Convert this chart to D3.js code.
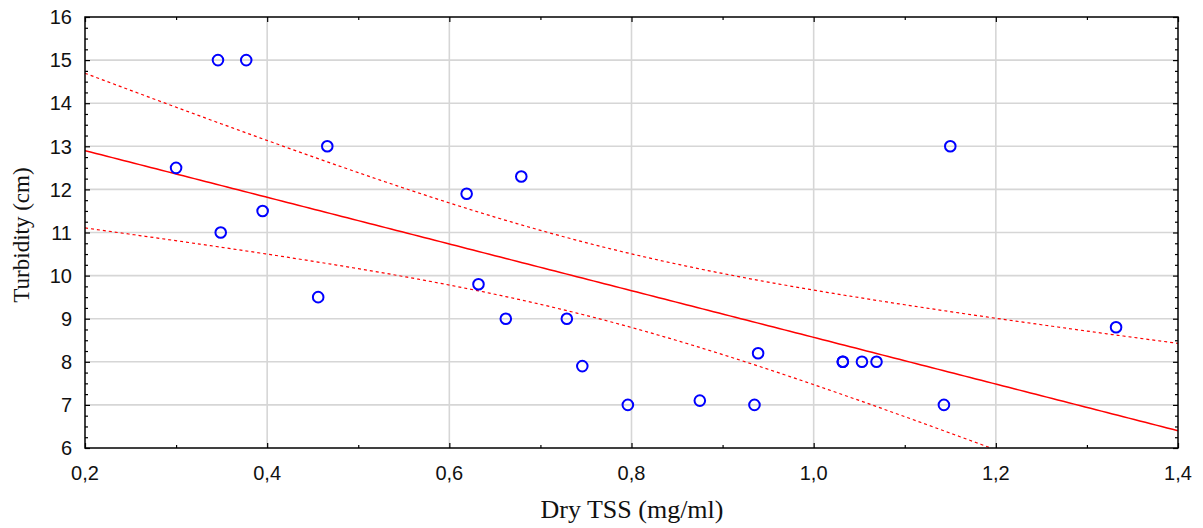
<!DOCTYPE html>
<html>
<head>
<meta charset="utf-8">
<script src="https://cdn.jsdelivr.net/npm/d3@7"></script>
<style>
  body { margin: 0; background: #fff; }
  svg { display: block; }
</style>
</head>
<body>
<div id="chart"></div>
<script>

var dryTss = [0.300, 0.346, 0.377, 0.349, 0.395, 0.466, 0.456, 0.619, 0.679, 0.632,
              0.662, 0.729, 0.746, 0.796, 0.875, 0.935, 0.939, 1.032, 1.032, 1.053,
              1.069, 1.143, 1.150, 1.332];
var turbidity = [12.5, 15.0, 15.0, 11.0, 11.5, 13.0, 9.5, 11.9, 12.3, 9.8,
                 9.0, 9.0, 7.9, 7.0, 7.1, 7.0, 8.2, 8.0, 8.0, 8.0,
                 8.0, 7.0, 13.0, 8.8];

var xTicks = [0.2, 0.4, 0.6, 0.8, 1.0, 1.2, 1.4];
var yTicks = [6, 7, 8, 9, 10, 11, 12, 13, 14, 15, 16];
var xDomain = [0.2, 1.4];
var yDomain = [6, 16];

var T_CRIT = 2.074; // t(0.975, n-2) for the 95% band

var W = 1203, H = 528;
var margin = { top: 17, right: 25, bottom: 80, left: 85 };
var iw = W - margin.left - margin.right;
var ih = H - margin.top - margin.bottom;

var fmt = function(v) { return d3.format(".1f")(v).replace(".", ","); };

var svg = d3.select("#chart").append("svg")
    .attr("width", W)
    .attr("height", H);

var g = svg.append("g")
    .attr("transform", "translate(" + margin.left + "," + margin.top + ")");

var x = d3.scaleLinear().domain(xDomain).range([0, iw]);
var y = d3.scaleLinear().domain(yDomain).range([ih, 0]);

// grid
g.append("g").selectAll("line").data(xTicks.slice(1, -1)).enter().append("line")
    .attr("x1", function(d) { return x(d); })
    .attr("x2", function(d) { return x(d); })
    .attr("y1", 0).attr("y2", ih)
    .attr("stroke", "#d6d6d6").attr("stroke-width", 1.6);
g.append("g").selectAll("line").data(yTicks.slice(1, -1)).enter().append("line")
    .attr("y1", function(d) { return y(d); })
    .attr("y2", function(d) { return y(d); })
    .attr("x1", 0).attr("x2", iw)
    .attr("stroke", "#d6d6d6").attr("stroke-width", 1.6);

// regression + 95% confidence band, computed from the points
var n = dryTss.length;
var mx = d3.mean(dryTss), my = d3.mean(turbidity);
var sxx = 0, sxy = 0;
for (var i = 0; i < n; i++) {
    sxx += (dryTss[i] - mx) * (dryTss[i] - mx);
    sxy += (dryTss[i] - mx) * (turbidity[i] - my);
}
var slope = sxy / sxx;
var icpt = my - slope * mx;
var sse = 0;
for (var i = 0; i < n; i++) {
    var r = turbidity[i] - (icpt + slope * dryTss[i]);
    sse += r * r;
}
var se = Math.sqrt(sse / (n - 2));

var xs = d3.range(0, 201).map(function(k) { return xDomain[0] + (xDomain[1] - xDomain[0]) * k / 200; });
function band(sign) {
    return xs.map(function(v) {
        var half = T_CRIT * se * Math.sqrt(1 / n + (v - mx) * (v - mx) / sxx);
        return [v, icpt + slope * v + sign * half];
    });
}

g.append("clipPath").attr("id", "clip")
  .append("rect").attr("width", iw).attr("height", ih);

var line = d3.line()
    .x(function(d) { return x(d[0]); })
    .y(function(d) { return y(d[1]); });

var fits = g.append("g").attr("clip-path", "url(#clip)");
fits.append("path")
    .datum(xs.map(function(v) { return [v, icpt + slope * v]; }))
    .attr("d", line)
    .attr("fill", "none").attr("stroke", "#ff0000").attr("stroke-width", 1.5);
[1, -1].forEach(function(s) {
    fits.append("path")
        .datum(band(s))
        .attr("d", line)
        .attr("fill", "none").attr("stroke", "#ff0000").attr("stroke-width", 1.2)
        .attr("stroke-dasharray", "3,3");
});

// points
g.append("g").selectAll("circle").data(d3.range(n)).enter().append("circle")
    .attr("cx", function(i) { return x(dryTss[i]); })
    .attr("cy", function(i) { return y(turbidity[i]); })
    .attr("r", 5.3)
    .attr("fill", "none")
    .attr("stroke", "#0000ff")
    .attr("stroke-width", 2);

// frame with inward ticks on all sides
var xMinor = d3.range(0.3, 1.4, 0.2);
var yMinor = d3.range(6, 16.01, 0.25).filter(function(v) { return Math.abs(v - Math.round(v)) > 0.01; });

function ticks(axisGen, scale, major, minor) {
    return function(sel) {
        sel.call(axisGen(scale).tickValues(major).tickSize(-5).tickFormat(""));
        sel.append("g").call(axisGen(scale).tickValues(minor).tickSize(-3).tickFormat(""));
        sel.selectAll(".domain").remove();
        sel.selectAll("line").attr("stroke", "#000").attr("stroke-width", 1.2);
    };
}
g.append("g").attr("transform", "translate(0," + ih + ")").call(ticks(d3.axisBottom, x, xTicks, xMinor));
g.append("g").call(ticks(d3.axisTop, x, xTicks, xMinor));
g.append("g").call(ticks(d3.axisLeft, y, yTicks, yMinor));
g.append("g").attr("transform", "translate(" + iw + ",0)").call(ticks(d3.axisRight, y, yTicks, yMinor));

g.append("rect")
    .attr("width", iw).attr("height", ih)
    .attr("fill", "none").attr("stroke", "#000").attr("stroke-width", 1.5);

// tick labels
g.append("g").selectAll("text").data(xTicks).enter().append("text")
    .attr("x", function(d) { return x(d); })
    .attr("y", ih + 32)
    .attr("text-anchor", "middle")
    .style("font-family", "'Liberation Sans', Arial, sans-serif")
    .style("font-size", "20px")
    .attr("fill", "#111")
    .text(fmt);
g.append("g").selectAll("text").data(yTicks).enter().append("text")
    .attr("x", -13)
    .attr("y", function(d) { return y(d); })
    .attr("dy", "0.36em")
    .attr("text-anchor", "end")
    .style("font-family", "'Liberation Sans', Arial, sans-serif")
    .style("font-size", "20px")
    .attr("fill", "#111")
    .text(function(d) { return d; });

// axis titles
svg.append("text")
    .attr("x", 632)
    .attr("y", 518)
    .attr("text-anchor", "middle")
    .style("font-family", "'Liberation Serif', 'Times New Roman', serif")
    .style("font-size", "26px")
    .attr("fill", "#111")
    .text("Dry TSS (mg/ml)");
svg.append("text")
    .attr("transform", "translate(29,235) rotate(-90)")
    .attr("text-anchor", "middle")
    .style("font-family", "'Liberation Serif', 'Times New Roman', serif")
    .style("font-size", "23px")
    .attr("fill", "#111")
    .text("Turbidity (cm)");

</script>
</body>
</html>
